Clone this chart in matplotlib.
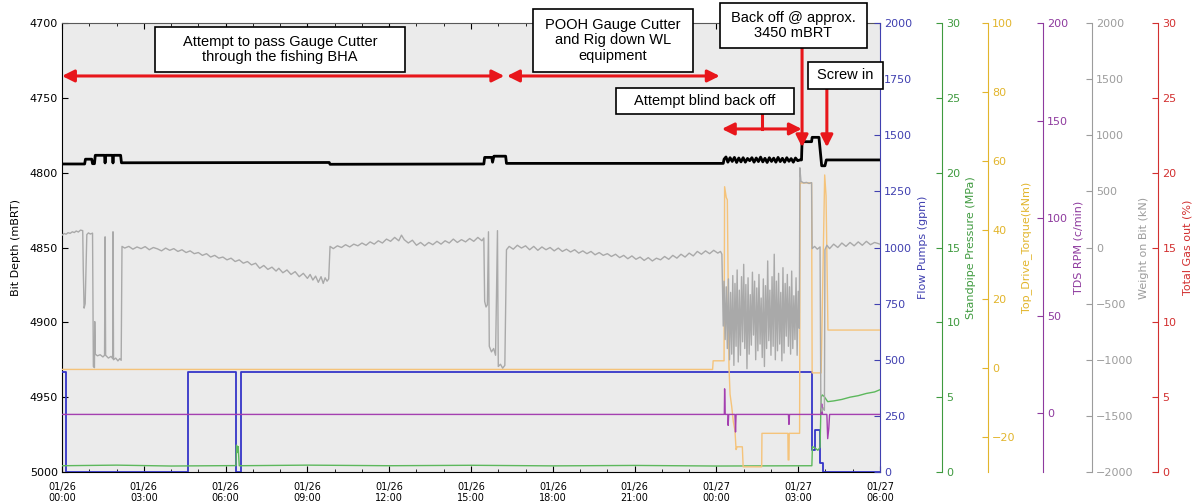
import datetime
import matplotlib
matplotlib.use('Agg')
import matplotlib.pyplot as plt
import matplotlib.dates as mdates
from matplotlib.patches import Rectangle

# all times are hours after 01/26 00:00
bit_depth_t = [0, 0.83, 0.86, 1.09, 1.12, 1.19, 1.22, 1.56, 1.58, 1.60, 1.85, 1.87, 1.89, 2.15, 2.18,
               9.80, 9.83, 15.47, 15.50, 15.76, 15.79, 15.84, 16.27, 16.30, 24.25, 24.28,
               24.35, 24.42, 24.50, 24.58, 24.66, 24.74, 24.82, 24.90, 24.98, 25.06, 25.14, 25.22,
               25.30, 25.38, 25.46, 25.54, 25.62, 25.70, 25.78, 25.86, 25.94, 26.02, 26.10, 26.18,
               26.26, 26.34, 26.42, 26.50, 26.58, 26.66, 26.74, 26.82, 26.90, 26.98, 27.06, 27.12,
               27.14, 27.49, 27.51, 27.76, 27.86, 27.98, 28.03, 30.0]
bit_depth_v = [4794.2, 4794.2, 4791.0, 4791.0, 4794.0, 4794.0, 4788.4, 4788.4, 4793.5, 4788.4, 4788.4,
               4793.5, 4788.4, 4788.4, 4793.4,
               4793.2, 4794.4, 4794.2, 4789.8, 4789.8, 4793.0, 4789.0, 4789.0, 4793.8, 4793.8, 4791.0,
               4789.5, 4793.0, 4790.0, 4792.5, 4789.8, 4793.2, 4790.2, 4792.8, 4790.0, 4793.0, 4790.5, 4792.0,
               4790.0, 4793.0, 4790.2, 4792.6, 4789.6, 4792.8, 4790.4, 4793.2, 4790.0, 4792.5, 4790.3, 4793.0,
               4789.8, 4792.6, 4790.4, 4793.0, 4790.0, 4792.4, 4790.6, 4793.0, 4790.2, 4792.0, 4791.5, 4791.5,
               4779.3, 4779.3, 4776.4, 4776.4, 4795.4, 4795.4, 4791.5, 4791.5]

flow_t = [0, 0.14, 4.62, 6.37, 6.55, 27.51, 27.61, 27.79, 27.92, 30.0]
flow_v = [445, 0, 445, 0, 445, 98, 187, 40, 0, 0]

spp_t = [0, 2.0, 4.0, 6.38, 6.40, 6.43, 6.46, 6.50, 9.0, 12.0, 15.0, 18.0, 21.0, 24.0, 27.50,
         27.52, 27.62, 27.72, 27.80, 27.84, 27.88, 27.95, 28.08, 28.3, 28.6, 28.9, 29.2, 29.5, 29.8, 30.0]
spp_v = [0.42, 0.46, 0.40, 0.43, 1.8, 1.3, 1.7, 0.42, 0.46, 0.42, 0.45, 0.41, 0.44, 0.40, 0.42,
         1.7, 1.6, 1.45, 1.65, 5.0, 5.15, 5.05, 4.7, 4.75, 4.85, 5.0, 5.1, 5.25, 5.35, 5.5]

torque_t = [0, 23.86, 23.88, 24.28, 24.30, 24.36, 24.40, 24.46, 24.50, 24.56, 24.62, 24.68, 24.72,
            24.76, 24.95, 24.98, 25.66, 25.67, 26.62, 26.63, 26.66, 26.67, 27.05, 27.07, 27.49,
            27.51, 27.84, 27.97, 28.02, 28.09, 30.0]
torque_v = [-0.3, -0.3, 2.2, 2.2, 52.6, 49.5, 48.8, 0.5, -7.5, -11, -15.5, -18, -23.5,
            -22.7, -22.7, -28.5, -28.5, -18.8, -18.8, -26.5, -26.5, -18.8, -18.8, 53.7, 53.7,
            -1.3, -1.3, 56, 50, 11.1, 11.1]

rpm_t = [0, 24.29, 24.30, 24.32, 24.42, 24.43, 24.45, 24.68, 24.70, 24.72, 26.64, 26.66, 26.68,
         27.84, 27.86, 27.89, 28.05, 28.08, 28.12, 28.15, 30.0]
rpm_v = [-0.5, -0.5, 12.6, -0.5, -0.5, -6.1, -0.5, -0.5, -9.5, -0.5, -0.5, -5.6, -0.5,
         -0.5, 4.9, -0.5, -0.5, -12.9, -7.7, -0.5, -0.5]

wob_t = [0.00, 0.08, 0.15, 0.22, 0.30, 0.38, 0.45, 0.52, 0.60, 0.68, 0.76,
         0.78, 0.81, 0.85, 0.88, 0.91, 0.97, 1.04, 1.12,
         1.15, 1.19, 1.20, 1.22, 1.30, 1.40, 1.50, 1.56,
         1.58, 1.60, 1.70, 1.80, 1.86,
         1.87, 1.89, 1.97, 2.05, 2.12, 2.17, 2.20,
         2.30, 2.45, 2.60, 2.75, 2.90, 3.05, 3.20, 3.35, 3.50, 3.65, 3.80, 3.95, 4.10, 4.25, 4.40,
         4.55, 4.70, 4.85, 5.00, 5.15, 5.30, 5.45, 5.60, 5.75, 5.90, 6.05, 6.20, 6.35, 6.50, 6.65,
         6.80, 6.95, 7.10, 7.25, 7.40, 7.55, 7.70, 7.85, 7.95, 8.10, 8.25, 8.40, 8.55, 8.70, 8.85,
         9.00, 9.10, 9.20, 9.30, 9.40, 9.50, 9.58, 9.65, 9.72, 9.78,
         9.83, 9.95, 10.10, 10.25, 10.40, 10.55, 10.70, 10.85, 11.00, 11.15, 11.30, 11.45, 11.60,
         11.75, 11.90, 12.05, 12.20, 12.35, 12.45, 12.55, 12.70, 12.85, 13.00, 13.15, 13.30, 13.45,
         13.60, 13.75, 13.90, 14.05, 14.20, 14.35, 14.50, 14.65, 14.80, 14.95, 15.10, 15.25, 15.40,
         15.47,
         15.50, 15.55, 15.60, 15.64, 15.67, 15.75, 15.83, 15.90, 15.97, 16.00, 16.08, 16.16, 16.24,
         16.30,
         16.40, 16.55, 16.70, 16.85, 17.00, 17.15, 17.30, 17.45, 17.60, 17.75, 17.90, 18.05, 18.20,
         18.35, 18.50, 18.65, 18.80, 18.95, 19.10, 19.25, 19.40, 19.55, 19.70, 19.85, 20.00, 20.15,
         20.30, 20.45, 20.60, 20.75, 20.90, 21.05, 21.20, 21.35, 21.50, 21.65, 21.80, 21.95, 22.10,
         22.25, 22.40, 22.55, 22.70, 22.85, 23.00, 23.15, 23.30, 23.45, 23.60, 23.75, 23.90, 24.05,
         24.15,
         24.20, 24.25, 24.28, 24.32, 24.36, 24.40, 24.44, 24.48, 24.52, 24.56, 24.60, 24.64, 24.68,
         24.72, 24.76, 24.80, 24.84, 24.88, 24.92, 24.96, 25.00, 25.04, 25.08, 25.12, 25.16, 25.20,
         25.24, 25.28, 25.32, 25.36, 25.40, 25.44, 25.48, 25.52, 25.56, 25.60, 25.64, 25.68, 25.72,
         25.76, 25.80, 25.84, 25.88, 25.92, 25.96, 26.00, 26.04, 26.08, 26.12, 26.16, 26.20, 26.24,
         26.28, 26.32, 26.36, 26.40, 26.44, 26.48, 26.52, 26.56, 26.60, 26.64, 26.68, 26.72, 26.76,
         26.80, 26.84, 26.88, 26.92, 26.96, 27.00, 27.04,
         27.06, 27.10, 27.20, 27.30, 27.40, 27.49, 27.51, 27.60, 27.70, 27.80, 27.83, 27.87, 27.92,
         27.96, 27.98, 28.05, 28.15, 28.30, 28.45, 28.60, 28.75, 28.90, 29.05, 29.20, 29.35, 29.50,
         29.65, 29.80, 30.00]
wob_v = [110, 125, 118, 132, 126, 140, 133, 147, 138, 155, 150,
         -200, -540, -500, -200, 115, 130, 120, 128,
         -1060, -1070, -660, -950, -965, -955, -975, -960,
         95, -960, -985, -970, -990,
         140, -1000, -985, -1010, -990, -1005, 10,
         -5, 10, -15, 5, -10, 8, -20, 0, -12, -30, -5, -25, -10, -35, -20,
         -45, -30, -55, -45, -70, -55, -85, -70, -95, -85, -110, -95, -125, -110, -140,
         -125, -155, -140, -185, -160, -195, -175, -210, -185, -225, -200, -240, -215, -260, -230,
         -275, -240, -290, -255, -310, -260, -320, -270, -300, -280,
         10, -10, 15, 0, 25, 5, 30, 15, 40, 20, 50, 30, 60,
         40, 75, 55, 90, 60, 110, 70, 40, 65, 20, 45, 15, 45,
         25, 55, 30, 60, 40, 75, 45, 70, 50, 80, 55, 90, 60,
         85,
         -480, -530, -510, 140, -880, -930, -900, -960, 150, -1060, -1040, -1075, -1050,
         -20,
         10, -15, 20, -5, 15, -20, 10, -25, 5, -20, 0, -30, -5,
         -35, -15, -40, -20, -50, -30, -55, -35, -65, -45, -70, -55, -80,
         -60, -90, -70, -100, -75, -105, -85, -115, -90, -120, -95, -110, -80,
         -105, -70, -95, -60, -85, -50, -75, -35, -60, -30, -55, -25, -50,
         -35,
         -60, -700, -300, -820, -350, -900, -280, -1000, -400, -950, -250, -1050, -320,
         -880, -200, -1020, -380, -960, -260, -840, -150, -900, -330, -1080, -270, -950,
         -420, -870, -220, -780, -300, -1000, -360, -920, -240, -860, -450, -980, -280,
         -1060, -340, -900, -120, -830, -380, -960, -260, -880, -60, -1000, -300, -920,
         -230, -860, -400, -1010, -180, -940, -320, -790, -240, -880, -350, -950, -210,
         -900, -430, -820, -270, -960, -390, -720,
         710, 590, 575, 580, 570, 578, -10, 10, -15, 5, -1420, -1460, -1430,
         -1450, -20, 20, -10, 30, 0, 40, 10, 45, 15, 50, 20, 55,
         25, 45, 30]

start = datetime.datetime(2016, 1, 26)


def dates(hours):
    return [start + datetime.timedelta(hours=h) for h in hours]


def xh(h):
    return mdates.date2num(start + datetime.timedelta(hours=h))


fig = plt.figure(figsize=(11.97, 5.03), dpi=100)
ax = fig.add_axes([0.0518, 0.0616, 0.6834, 0.8927])
ax.set_facecolor('#ebebeb')

ax.plot(dates(bit_depth_t), bit_depth_v, color='black', lw=2)
ax.set_ylim(5000, 4700)
ax.set_yticks(range(4700, 5001, 50))
ax.set_ylabel('Bit Depth (mBRT)', fontsize=8, labelpad=6)
ax.set_xlim(start, start + datetime.timedelta(hours=30))
ax.xaxis.set_major_locator(mdates.HourLocator(byhour=range(0, 24, 3)))
ax.xaxis.set_minor_locator(mdates.HourLocator())
ax.xaxis.set_major_formatter(mdates.DateFormatter('%m/%d\n%H:%M'))
ax.xaxis.set_ticks_position('both')
ax.tick_params(axis='x', which='major', direction='in', length=4, labelsize=7, pad=7)
ax.tick_params(axis='x', which='minor', direction='in', length=2)
ax.tick_params(axis='y', direction='in', length=4, labelsize=8, pad=3)
ax.spines['top'].set_color('0.35')
ax.spines['right'].set_visible(False)

# extra y axes: (label, color, line color, spine position, limits, ticks)
axes_spec = [
    ('Flow Pumps (gpm)', '#4040b0', '#3535c8', 1.0, (0, 2000), range(0, 2001, 250)),
    ('Standpipe Pressure (MPa)', '#3f9a3f', '#5cb85c', 1.076, (0, 30), range(0, 31, 5)),
    ('Top_Drive_Torque(kNm)', '#e2b52c', '#f5c37a', 1.132, (-30, 100), range(-20, 101, 20)),
    ('TDS RPM (c/min)', '#8e3a9e', '#a43fb0', 1.199, (-30, 200), range(0, 201, 50)),
    ('Weight on Bit (kN)', '#9c9c9c', '#a9a9a9', 1.259, (-2000, 2000), range(-2000, 2001, 500)),
    ('Total Gas out (%)', '#d23030', '#d23030', 1.340, (0, 30), range(0, 31, 5)),
]
twins = []
for label, color, lcolor, pos, lim, ticks in axes_spec:
    t = ax.twinx()
    for s in ['left', 'top', 'bottom']:
        t.spines[s].set_visible(False)
    t.spines['right'].set_position(('axes', pos))
    t.spines['right'].set_color(color)
    t.set_ylim(*lim)
    t.set_yticks(list(ticks))
    t.tick_params(axis='y', colors=color, direction='in', length=4, labelsize=8, pad=3)
    t.set_ylabel(label, color=color, fontsize=8)
    twins.append(t)

ax_fp, ax_sp, ax_tq, ax_rpm, ax_wob, ax_gas = twins
ax_fp.plot(dates(flow_t), flow_v, color=axes_spec[0][2], lw=1.3, drawstyle='steps-post')
ax_sp.plot(dates(spp_t), spp_v, color=axes_spec[1][2], lw=1)
ax_tq.plot(dates(torque_t), torque_v, color=axes_spec[2][2], lw=1)
ax_rpm.plot(dates(rpm_t), rpm_v, color=axes_spec[3][2], lw=1)
ax_wob.plot(dates(wob_t), wob_v, color=axes_spec[4][2], lw=1)

# annotation boxes (hours, depth)
boxes = [
    ('Attempt to pass Gauge Cutter\nthrough the fishing BHA', 3.41, 12.58, 4702.7, 4732.7),
    ('POOH Gauge Cutter\nand Rig down WL\nequipment', 17.27, 23.14, 4690.6, 4732.7),
    ('Back off @ approx.\n3450 mBRT', 24.13, 29.52, 4686.6, 4716.7),
    ('Screw in', 27.36, 30.1, 4726.0, 4744.0),
    ('Attempt blind back off', 20.32, 26.84, 4743.4, 4760.8),
]
top = ax_gas
for text, h0, h1, d0, d1 in boxes:
    top.add_patch(Rectangle((xh(h0), d0), xh(h1) - xh(h0), d1 - d0, transform=ax.transData,
                            facecolor='white', edgecolor='black', lw=1.2, clip_on=False, zorder=5))
    top.text((xh(h0) + xh(h1)) / 2, (d0 + d1) / 2, text, transform=ax.transData,
             ha='center', va='center', fontsize=10.5, family='Liberation Sans',
             linespacing=1.15, zorder=6, clip_on=False)

red = '#e8161b'
arrows = [
    ('<|-|>', 0.0, 4735.4, 16.22, 4735.4),
    ('<|-|>', 16.32, 4735.4, 24.12, 4735.4),
    ('<|-|>', 24.2, 4770.8, 27.13, 4770.8),
    ('-|>', 27.14, 4716.7, 27.14, 4783.0),
    ('-|>', 28.05, 4744.0, 28.05, 4783.0),
]
for style, ha0, da0, ha1, da1 in arrows:
    top.annotate('', xy=(xh(ha1), da1), xytext=(xh(ha0), da0), xycoords=ax.transData,
                 textcoords=ax.transData, annotation_clip=False,
                 arrowprops=dict(arrowstyle=style + ',head_length=0.6,head_width=0.3',
                                 color=red, lw=2.2, shrinkA=0, shrinkB=0, mutation_scale=12))
top.plot([xh(25.67), xh(25.67)], [4770.8, 4760.8], transform=ax.transData,
         color=red, lw=2.2, clip_on=False)

fig.savefig('out.png', dpi=100)
